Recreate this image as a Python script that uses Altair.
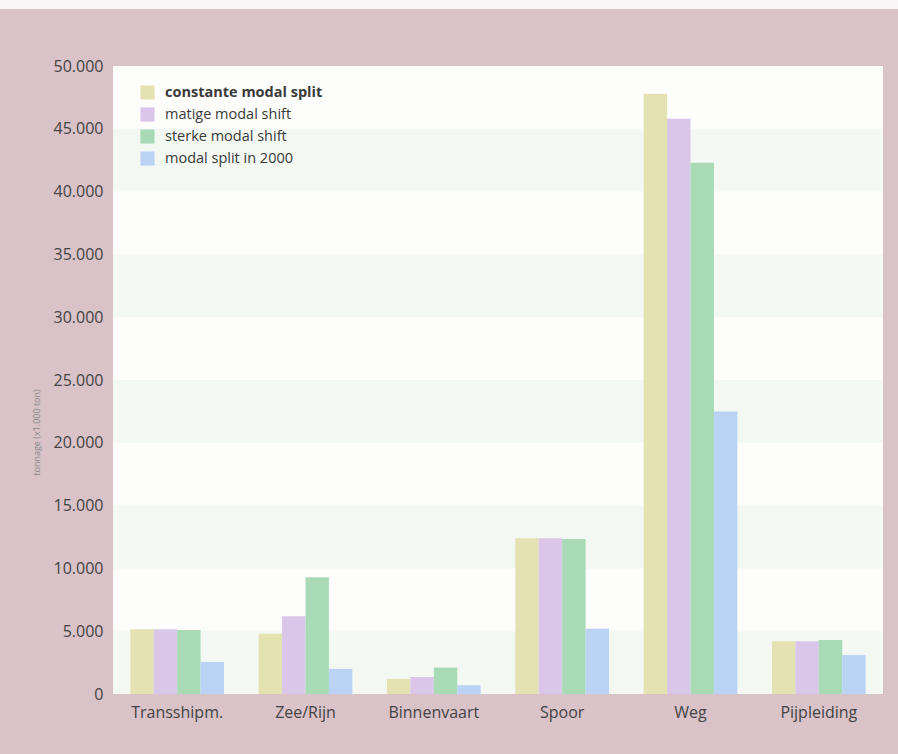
import altair as alt
import pandas as pd

categories = ["Transshipm.", "Zee/Rijn", "Binnenvaart", "Spoor", "Weg", "Pijpleiding"]
series = ["constante modal split", "matige modal shift", "sterke modal shift", "modal split in 2000"]
constante = [5150, 4800, 1200, 12400, 47800, 4200]
matige = [5150, 6200, 1350, 12400, 45800, 4200]
sterke = [5100, 9300, 2100, 12350, 42300, 4300]
split2000 = [2550, 2000, 700, 5200, 22500, 3100]
colors = ["#e5e2b2", "#dac6e8", "#a8dab6", "#bad3f4"]

band_start = [0, 10000, 20000, 30000, 40000]
band_end = [5000, 15000, 25000, 35000, 45000]
y_ticks = [0, 5000, 10000, 15000, 20000, 25000, 30000, 35000, 40000, 45000, 50000]

rows = []
for s, vals in zip(series, [constante, matige, sterke, split2000]):
    for c, v in zip(categories, vals):
        rows.append({"cat": c, "series": s, "value": v})
df = pd.DataFrame(rows)
bands = pd.DataFrame({"y0": band_start, "y1": band_end})

FONT = "Open Sans"
W, H = 770, 628

yscale = alt.Scale(domain=[0, 50000], nice=False)
yaxis = alt.Axis(title="tonnage (x1.000 ton)", values=y_ticks,
                 labelExpr="replace(format(datum.value, ','), ',', '.')",
                 ticks=False, domain=False, grid=False, labelPadding=10,
                 labelFontSize=16, labelFont=FONT, labelColor="#444444",
                 titleFontSize=9, titleFont=FONT, titleColor="#8a8a8a",
                 titleFontWeight="normal", titleX=-77, titleY=366,
                 titleAlign="center", titleBaseline="middle")

# thin white paper strip at the very top of the image
top_strip = alt.Chart(pd.DataFrame({"k": [0]})).mark_rect(color="#f7f5f5", clip=False).encode(
    x=alt.value(-113), x2=alt.value(W + 15),
    y=alt.value(-66), y2=alt.value(-57),
)

band_layer = alt.Chart(bands).mark_rect(color="#f3f8f3").encode(
    x=alt.value(0), x2=alt.value(W),
    y=alt.Y("y0:Q", scale=yscale, axis=yaxis),
    y2="y1:Q",
)

bars = alt.Chart(df).mark_bar().encode(
    x=alt.X("cat:N", sort=categories,
            scale=alt.Scale(paddingInner=0.27, paddingOuter=0.135),
            axis=alt.Axis(title=None, labelAngle=0, ticks=False, domain=False,
                          labelPadding=10, labelFontSize=16, labelFont=FONT,
                          labelColor="#444444")),
    xOffset=alt.XOffset("series:N", sort=series, scale=alt.Scale(paddingInner=0, paddingOuter=0)),
    y=alt.Y("value:Q", scale=yscale, axis=yaxis),
    color=alt.Color("series:N", sort=series,
                    scale=alt.Scale(domain=series, range=colors),
                    legend=alt.Legend(title=None, orient="none", legendX=27, legendY=19,
                                      symbolType="square", symbolSize=200,
                                      symbolStrokeWidth=0, rowPadding=6,
                                      labelFont=FONT, labelFontSize=14.5, labelLimit=0,
                                      labelColor="#3a3a3a", labelOffset=10,
                                      labelFontWeight=alt.ExprRef(
                                          "datum.label == 'constante modal split' ? 'bold' : 'normal'"))),
)

chart = alt.layer(top_strip, band_layer, bars).properties(
    width=W, height=H,
    background="#d9c2c8",
    padding={"left": 113, "top": 66, "right": 15, "bottom": 60},
    autosize=alt.AutoSizeParams(type="none"),
).configure_view(fill="#fdfdfc", stroke=None)

chart.save("out.html", embed_options={"renderer": "svg", "actions": False})
